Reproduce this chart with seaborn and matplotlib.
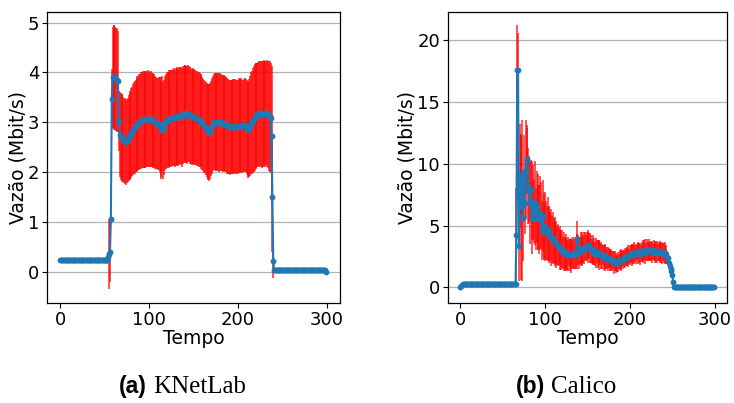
import numpy as np
import matplotlib
matplotlib.use("Agg")
import matplotlib.pyplot as plt
import seaborn as sns

# KNetLab throughput (Mbit/s), one value per second, and its std deviation
knet_mean = ([0.24] * 54
             + [0.3, 0.36, 0.4, 1.06, 3.47]
             + [3.9, 3.92, 3.9, 3.88, 3.86, 3.85, 3.82]
             + [3.03, 2.75]
             + [2.72, 2.7, 2.68, 2.65, 2.63, 2.62, 2.6, 2.62]
             + [2.65, 2.68, 2.72, 2.75, 2.78, 2.82, 2.85, 2.88, 2.9, 2.93,
                2.95, 2.97, 2.99, 3.0, 3.02, 3.03, 3.04, 3.05, 3.05, 3.06]
             + [3.06, 3.07, 3.06, 3.07, 3.06, 3.05, 3.06, 3.05, 3.04, 3.03,
                3.02, 3.0, 2.98, 2.97, 2.96, 2.97, 2.95, 2.9, 2.85, 2.97]
             + [2.84, 2.9, 2.98, 3.02, 3.04, 3.06, 3.05, 3.07, 3.08, 3.07,
                3.08, 3.09, 3.1, 3.08, 3.1, 3.12, 3.13, 3.1, 3.12, 3.14]
             + [3.12, 3.1, 3.14, 3.16, 3.18, 3.17, 3.16, 3.15, 3.17, 3.16,
                3.14, 3.12, 3.1, 3.12, 3.11, 3.1, 3.09, 3.08, 3.07, 3.06]
             + [3.05, 3.04, 3.03, 3.0, 2.98, 2.95, 2.92, 2.9, 2.88, 2.85,
                2.82, 2.8, 2.79, 2.82, 2.88, 2.93, 2.97, 3.0, 3.01, 3.0]
             + [3.0, 3.01, 3.0, 2.99, 3.01, 3.0, 2.98, 2.97, 2.98, 2.97,
                2.96, 2.95, 2.93, 2.92, 2.91, 2.9, 2.91, 2.92, 2.9, 2.91]
             + [2.92, 2.91, 2.9, 2.92, 2.91, 2.93, 2.92, 2.93, 2.94, 2.92,
                2.93, 2.94, 2.95, 2.93, 2.9, 2.87, 2.85, 2.88, 2.93, 2.98]
             + [3.0, 3.03, 3.06, 3.09, 3.12, 3.14, 3.15, 3.16, 3.17, 3.18,
                3.16, 3.15, 3.17, 3.19, 3.18, 3.17, 3.19, 3.18, 3.16, 3.12]
             + [3.12, 3.08, 2.73, 1.5, 0.22]
             + [0.04] * 58
             + [0.01])

knet_err = ([0.01] * 54
            + [0.1, 0.7, 0.6, 0.08, 0.6]
            + [1.02, 1.04, 1.05, 1.04, 1.03, 1.05, 1.02]
            + [0.6, 0.85]
            + [0.87, 0.86, 0.88, 0.85, 0.84, 0.86, 0.85, 0.84]
            + [0.84, 0.86, 0.87, 0.88, 0.9, 0.89, 0.91, 0.92, 0.93, 0.92,
               0.94, 0.95, 0.94, 0.96, 0.95, 0.97, 0.96, 0.97, 0.96, 0.97]
            + [0.97, 0.96, 0.95, 0.97, 0.96, 0.95, 0.96, 0.94, 0.95, 0.93,
               0.94, 0.93, 0.92, 0.91, 0.92, 0.93, 0.95, 1.0, 0.98, 0.95]
            + [0.97, 0.95, 0.94, 0.95, 0.96, 0.95, 0.96, 0.97, 0.96, 0.97,
               0.96, 0.97, 0.98, 0.97, 0.98, 0.97, 0.98, 0.97, 0.98, 0.97]
            + [0.98, 0.99, 0.98, 0.97, 0.96, 0.98, 0.97, 0.98, 0.97, 0.96,
               0.97, 0.96, 0.95, 0.96, 0.95, 0.96, 0.95, 0.94, 0.95, 0.94]
            + [0.95, 0.94, 0.93, 0.94, 0.93, 0.92, 0.93, 0.92, 0.93, 0.94,
               0.95, 0.96, 0.97, 0.96, 0.95, 0.96, 0.95, 0.96, 0.97, 0.98]
            + [0.98, 0.97, 0.98, 0.99, 0.98, 0.97, 0.96, 0.97, 0.96, 0.95,
               0.96, 0.95, 0.96, 0.95, 0.94, 0.95, 0.94, 0.93, 0.94, 0.95]
            + [0.94, 0.95, 0.94, 0.93, 0.94, 0.95, 0.94, 0.93, 0.94, 0.93,
               0.92, 0.93, 0.94, 0.93, 0.94, 0.95, 0.96, 0.98, 1.0, 1.02]
            + [1.03, 1.05, 1.06, 1.07, 1.06, 1.05, 1.04, 1.05, 1.06, 1.05,
               1.06, 1.07, 1.06, 1.05, 1.07, 1.06, 1.05, 1.07, 1.08, 1.1]
            + [1.12, 1.1, 1.4, 1.1, 0.33]
            + [0.01] * 58
            + [0.01])

# Calico throughput (Mbit/s)
calico_mean = ([0.0, 0.1, 0.18, 0.24, 0.27]
               + [0.3] * 60
               + [0.3, 4.2, 17.6, 17.6, 3.35, 9.0, 6.5, 9.1, 7.0, 5.6]
               + [9.3, 6.8, 9.5, 10.35, 10.3, 8.2, 7.9, 6.8, 7.9, 5.6]
               + [7.0, 6.9, 6.2, 6.8, 5.5, 6.5, 6.1, 5.7, 5.5, 6.0]
               + [5.8, 4.6, 5.8, 5.0, 4.5, 4.9, 4.6, 4.4, 4.7, 4.3]
               + [4.3, 4.1, 4.0, 3.9, 4.0, 3.8, 3.7, 3.6, 3.5, 3.4]
               + [3.4, 3.3, 3.2, 3.2, 3.0, 3.1, 2.8, 2.9, 2.7, 2.8]
               + [2.7, 2.6, 2.7, 2.8, 2.6, 2.7, 2.6, 2.7, 2.8, 2.7]
               + [2.8, 2.6, 2.9, 3.9, 3.0, 2.8, 3.0, 3.1, 2.9, 3.2]
               + [3.1, 3.2, 3.3, 3.2, 3.3, 3.4, 3.3, 3.4, 3.2, 3.1]
               + [2.9, 3.0, 2.8, 2.9, 2.7, 2.8, 2.9, 2.7, 2.8, 2.6]
               + [2.7, 2.6, 2.5, 2.6, 2.4, 2.5, 2.4, 2.3, 2.4, 2.3]
               + [2.4, 2.2, 2.3, 2.2, 2.1, 2.2, 2.0, 2.1, 1.95, 2.0]
               + [1.95, 2.05, 2.1, 2.2, 2.15, 2.2, 2.3, 2.25, 2.35, 2.4]
               + [2.4, 2.5, 2.45, 2.55, 2.5, 2.6, 2.7, 2.6, 2.75, 2.7]
               + [2.8, 2.75, 2.7, 2.8, 2.75, 2.9, 2.8, 2.7, 2.75, 2.85]
               + [2.9, 2.8, 3.0, 2.9, 2.85, 3.0, 2.9, 2.95, 3.0, 2.9]
               + [2.95, 2.85, 2.9, 3.0, 2.85, 2.8, 2.9, 2.85, 2.8, 2.9]
               + [2.85, 2.8, 2.75, 2.8, 2.85, 2.8, 2.75, 2.7, 2.5, 2.4]
               + [2.35, 2.0, 1.7, 1.5, 1.3, 1.0, 0.45]
               + [0.0] * 48)

calico_err = ([0.02] * 65
              + [0.05, 3.8, 3.6, 3.0, 2.8, 4.2, 5.9, 3.2, 6.5, 3.5]
              + [3.0, 2.5, 4.0, 2.8, 2.6, 3.1, 2.7, 3.3, 2.4, 2.9]
              + [3.2, 3.0, 2.6, 3.4, 2.5, 2.9, 3.1, 2.6, 2.8, 3.0]
              + [2.7, 2.4, 2.9, 2.6, 2.3, 2.8, 2.4, 2.2, 2.6, 2.3]
              + [2.2, 2.0, 2.3, 1.9, 2.1, 1.8, 2.0, 1.7, 1.9, 1.6]
              + [1.7, 1.5, 1.8, 1.4, 1.6, 1.5, 1.3, 1.6, 1.4, 1.5]
              + [1.3, 1.2, 1.4, 1.1, 1.3, 1.2, 1.4, 1.1, 1.3, 1.2]
              + [1.3, 1.1, 1.4, 1.5, 1.2, 1.3, 1.1, 1.4, 1.2, 1.3]
              + [1.1, 1.3, 1.2, 1.0, 1.2, 1.1, 1.3, 1.0, 1.2, 1.1]
              + [1.0, 1.2, 0.9, 1.1, 1.0, 1.2, 0.9, 1.1, 1.0, 1.2]
              + [0.9, 1.1, 1.0, 0.8, 1.0, 0.9, 1.1, 0.8, 0.9, 1.0]
              + [0.8, 0.9, 0.7, 0.9, 0.8, 0.7, 0.9, 0.8, 0.6, 0.8]
              + [0.7, 0.8, 0.6, 0.8, 0.7, 0.9, 0.6, 0.8, 0.7, 0.8]
              + [0.6, 0.8, 0.7, 0.9, 0.6, 0.8, 0.7, 0.9, 0.7, 0.8]
              + [0.9, 0.7, 0.8, 0.6, 0.9, 0.7, 0.8, 0.9, 0.7, 0.8]
              + [0.9, 0.7, 0.8, 1.0, 0.7, 0.9, 0.8, 0.7, 0.9, 0.8]
              + [0.8, 0.9, 0.7, 0.8, 0.9, 0.7, 0.8, 0.9, 0.7, 0.8]
              + [0.9, 0.7, 0.8, 0.9, 0.7, 0.8, 0.9, 0.7, 0.6, 0.5]
              + [0.4, 0.3, 0.2, 0.2, 0.1, 0.1, 0.1]
              + [0.0] * 48)

knet_t = np.arange(len(knet_mean))
calico_t = np.arange(len(calico_mean))

sns.set_style("ticks")
plt.rcParams["font.family"] = ["DejaVu Sans"]
plt.rcParams.update({"text.color": "black", "axes.labelcolor": "black",
                     "xtick.color": "black", "ytick.color": "black",
                     "axes.edgecolor": "black"})

fig = plt.figure(figsize=(7.34, 4.03), dpi=100)
ax1 = fig.add_axes([0.064, 0.248, 0.399, 0.722])
ax2 = fig.add_axes([0.610, 0.248, 0.381, 0.722])

panels = [(ax1, knet_t, knet_mean, knet_err, (-0.62, 5.21), [0, 1, 2, 3, 4, 5]),
          (ax2, calico_t, calico_mean, calico_err, (-1.27, 22.26), [0, 5, 10, 15, 20])]

for ax, t, m, e, ylim, yt in panels:
    ax.errorbar(t, m, yerr=e, fmt="none", ecolor="red", elinewidth=1.1,
                alpha=0.85, zorder=1)
    sns.lineplot(x=t, y=m, ax=ax, color="#1f77b4", marker="o", markersize=4.2,
                 markeredgewidth=0, linewidth=1.5, zorder=2)
    ax.set_xlim(-15, 315)
    ax.set_ylim(*ylim)
    ax.set_xticks([0, 100, 200, 300])
    ax.set_yticks(yt)
    ax.yaxis.grid(True, color="#b0b0b0", linewidth=0.9)
    ax.set_axisbelow(True)
    ax.tick_params(labelsize=13, length=3.5, width=0.8, pad=2)
    ax.set_xlabel("Tempo", fontsize=13.5, labelpad=0)
    ax.set_ylabel("Vazão (Mbit/s)", fontsize=13.5, labelpad=0.5)
    for s in ax.spines.values():
        s.set_linewidth(0.9)

fig.text(147 / 734, 0.04, "(a)", ha="right", va="center", fontsize=16.5,
         fontweight="bold", family="Liberation Sans")
fig.text(153 / 734, 0.04, "KNetLab", ha="left", va="center", fontsize=18,
         family="Liberation Serif")
fig.text(545 / 734, 0.04, "(b)", ha="right", va="center", fontsize=16.5,
         fontweight="bold", family="Liberation Sans")
fig.text(551 / 734, 0.04, "Calico", ha="left", va="center", fontsize=18,
         family="Liberation Serif")

fig.savefig("out.png", dpi=100)
